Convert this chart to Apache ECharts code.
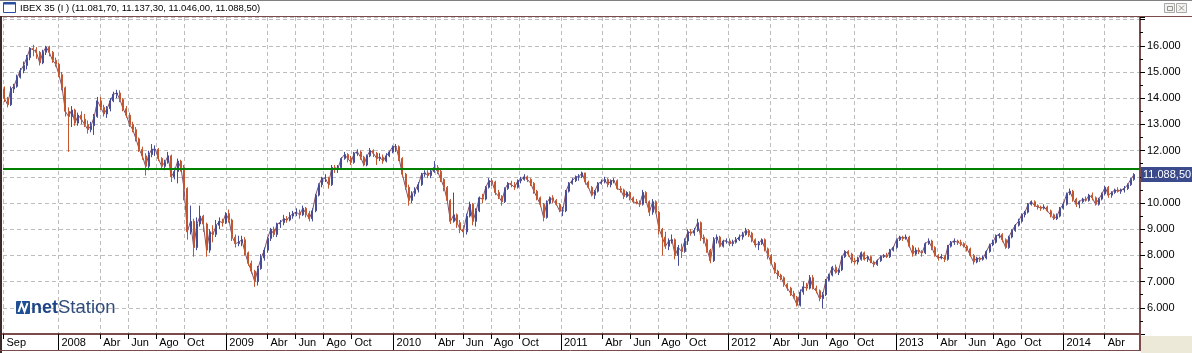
<!DOCTYPE html>
<html>
<head>
<meta charset="utf-8">
<title>IBEX 35</title>
<script src="https://cdn.jsdelivr.net/npm/echarts@6/dist/echarts.min.js"></script>
<style>
  html, body { margin: 0; padding: 0; background: #fff; }
  #chart { width: 1192px; height: 353px; }
</style>
</head>
<body>
<div id="chart"></div>
<script>
// weekly bars [open, close, low, high], one row per week (first week ends Fri 2007-09-07)
const w2007 = [
  [14350,14000,13850,14450],[14000,13750,13650,14050],[13750,14350,13700,14450],[14350,14450,14200,14550],
  [14450,14800,14400,14900],[14800,15050,14750,15150],[15050,15250,14950,15400],[15250,15550,15100,15650],
  [15550,15900,15450,15950],[15900,15850,15600,16040],[15850,15750,15500,15950],[15750,15350,15250,15800],[15350,15750,15300,15850],
  [15750,15950,15650,16000],[15950,15750,15600,16000],[15750,15450,15350,15800],[15450,15300,15200,15550]
]
const w2008 = [
  [15300,14900,14800,15350],[14900,14400,14300,15000],[14400,13500,13300,14450],[13500,13300,11950,13650],
  [13300,13550,12900,13700],[13550,13050,12950,13600],[13050,13350,12950,13450],[13350,13200,13000,13500],[13200,13000,12900,13400],
  [13000,12800,12650,13150],[12800,12950,12700,13100],[12950,13300,12600,13400],[13300,13900,13250,14050],
  [13900,13650,13550,14050],[13650,13400,13300,13750],[13400,13600,13250,13700],[13600,13900,13500,14000],
  [13900,14150,13850,14250],[14150,14200,14000,14320],[14200,13950,13850,14300],[13950,13600,13500,14000],[13600,13350,13250,13700],
  [13350,13000,12900,13450],[13000,12800,12700,13100],[12800,12450,12350,12900],[12450,12050,11950,12500],
  [12050,11800,11650,12150],[11800,11400,11050,11900],[11400,11850,11250,12000],[11850,12050,11750,12250],
  [12050,12050,11800,12200],[12050,11700,11600,12100],[11700,11400,11300,11750],[11400,11550,11250,11650],[11550,11800,11500,11950],
  [11800,11000,10800,11850],[11000,11200,10900,11350],[11200,11600,10750,11700],[11600,11350,11200,11650],
  [11350,10550,10100,11450],[10550,8900,8600,10600],[8900,9300,8800,9900],[9300,8300,7950,9400],[8300,9200,8200,9450],
  [9200,9500,9100,9900],[9500,9200,8900,9550],[9200,8200,7950,9250],[8200,8900,8100,9000],
  [8900,8800,8500,9150],[8800,9150,8700,9350],[9150,9300,9000,9450],[9300,9250,9100,9400]
]
const w2009 = [
  [9250,9600,9200,9650],[9600,9350,9250,9750],[9350,8700,8550,9400],[8700,8450,8300,8800],[8450,8500,8350,8750],
  [8500,8600,8350,8750],[8600,8100,8000,8700],[8100,7700,7600,8150],[7700,7400,7300,7800],
  [7400,7000,6800,7450],[7000,7500,6850,7600],[7500,7900,7450,8050],[7900,8200,7800,8300],
  [8200,8650,8100,8700],[8650,9000,8550,9050],[9000,8800,8700,9100],[8800,9200,8700,9250],
  [9200,9250,9050,9350],[9250,9400,9150,9550],[9400,9350,9250,9500],[9350,9500,9300,9650],[9500,9600,9400,9700],
  [9600,9650,9500,9800],[9650,9550,9400,9750],[9550,9800,9500,9900],[9800,9600,9450,9850],
  [9600,9400,9300,9700],[9400,9700,9300,9800],[9700,10300,9650,10350],[10300,10700,10250,10750],[10700,10950,10600,11000],
  [10950,10950,10800,11100],[10950,10700,10550,11000],[10700,11350,10650,11450],[11350,11300,11150,11450],
  [11300,11350,11150,11450],[11350,11700,11300,11750],[11700,11850,11650,11950],[11850,11700,11550,11900],
  [11700,11550,11450,11800],[11550,11900,11500,11950],[11900,11950,11800,12050],[11950,11750,11650,12000],[11750,11450,11400,11800],
  [11450,11800,11400,11850],[11800,12000,11750,12100],[12000,11900,11750,12050],[11900,11700,11450,11950],
  [11700,11750,11600,11900],[11750,11600,11500,11850],[11600,11800,11550,11900],[11800,11950,11750,12000]
]
const w2010 = [
  [11950,12150,11900,12200],[12150,12150,11950,12250],[12150,11700,11600,12200],[11700,11100,11000,11750],[11100,10600,10500,11150],
  [10600,10100,9900,10700],[10100,10350,10000,10450],[10350,10500,10250,10600],[10500,10700,10400,10800],
  [10700,11100,10650,11150],[11100,11150,11000,11250],[11150,11050,10950,11250],[11050,11200,10950,11300],
  [11200,11350,11150,11600],[11350,11200,11100,11450],[11200,10900,10800,11300],[10900,10600,10450,10950],[10600,10100,10000,10650],
  [10100,9300,9200,10150],[9300,9550,9250,10400],[9550,9250,9050,9600],[9250,9000,8850,9350],
  [9000,8900,8700,9150],[8900,9500,8800,9600],[9500,9950,9450,10050],[9950,9300,9150,10000],
  [9300,9700,9100,9800],[9700,10200,9650,10250],[10200,10150,10000,10350],[10150,10600,10100,10650],[10600,10850,10550,10950],
  [10850,10800,10650,10950],[10800,10400,10300,10850],[10400,10250,10150,10500],[10250,10050,9900,10300],
  [10050,10550,10000,10600],[10550,10750,10500,10800],[10750,10700,10600,10850],[10700,10600,10500,10800],
  [10600,10850,10550,10900],[10850,10900,10750,11000],[10900,11000,10850,11100],[11000,10900,10800,11050],[10900,10750,10650,10950],
  [10750,10450,10350,10800],[10450,10200,10100,10500],[10200,9950,9850,10250],[9950,9450,9300,10000],
  [9450,10000,9400,10100],[10000,10200,9950,10250],[10200,10100,10000,10300],[10100,9950,9900,10150],[9950,9700,9650,10000]
]
const w2011 = [
  [9700,9700,9500,9850],[9700,10450,9650,10500],[10450,10750,10400,10800],[10750,10850,10700,10950],
  [10850,11000,10800,11050],[11000,11000,10850,11100],[11000,11150,10950,11200],[11150,10800,10700,11150],
  [10800,10600,10550,10850],[10600,10300,10250,10650],[10300,10450,10150,10500],[10450,10750,10400,10800],
  [10750,10800,10700,10900],[10800,10900,10750,11000],[10900,10700,10600,10950],[10700,10850,10600,10900],[10850,10850,10750,10950],
  [10850,10550,10500,10900],[10550,10500,10400,10650],[10500,10250,10150,10550],[10250,10400,10200,10450],
  [10400,10200,10100,10450],[10200,10050,10000,10250],[10050,10000,9950,10150],[10000,9950,9850,10100],
  [9950,10400,9900,10500],[10400,10050,10000,10450],[10050,9650,9500,10100],[9650,10050,9550,10150],[10050,9650,9600,10100],
  [9650,9000,8800,9700],[9000,8700,8000,9050],[8700,8350,8250,8900],[8350,8550,8200,8650],
  [8550,8600,8450,8800],[8600,8000,7850,8650],[8000,8300,7600,8400],[8300,8150,7900,8450],[8150,8550,8100,8650],
  [8550,8900,8400,9000],[8900,8850,8750,9000],[8850,8950,8750,9050],[8950,9250,8900,9400],
  [9250,8700,8550,9300],[8700,8600,8450,8800],[8600,8200,8100,8650],[8200,7800,7700,8250],
  [7800,8600,7750,8700],[8600,8700,8450,8800],[8700,8350,8300,8750],[8350,8550,8300,8600],[8550,8550,8450,8650]
]
const w2012 = [
  [8550,8450,8350,8650],[8450,8500,8350,8600],[8500,8600,8450,8700],[8600,8700,8550,8800],
  [8700,8800,8600,8900],[8800,8950,8750,9050],[8950,8850,8700,9000],[8850,8600,8500,8900],
  [8600,8400,8300,8650],[8400,8450,8200,8550],[8450,8600,8400,8650],[8600,8250,8150,8650],[8250,8000,7850,8300],
  [8000,7700,7650,8050],[7700,7400,7300,7750],[7400,7250,7100,7450],[7250,7150,7050,7300],
  [7150,6900,6800,7200],[6900,6750,6650,6950],[6750,6550,6450,6800],[6550,6400,6350,6650],
  [6400,6100,6050,6450],[6100,6600,6050,6700],[6600,6800,6500,7000],[6800,6750,6650,6950],[6750,7150,6700,7250],
  [7150,6750,6700,7250],[6750,6650,6550,6850],[6650,6350,6250,6700],[6350,6500,5980,6600],
  [6500,7050,6450,7100],[7050,7250,7000,7300],[7250,7550,7200,7600],[7550,7350,7300,7650],[7350,7450,7250,7500],
  [7450,7950,7400,8000],[7950,8150,7900,8200],[8150,8050,7950,8200],[8050,7800,7700,8100],
  [7800,7750,7650,7900],[7750,7850,7650,7950],[7850,8100,7800,8150],[8100,7850,7800,8150],
  [7850,7950,7750,8000],[7950,7750,7700,8000],[7750,7650,7550,7800],[7650,7800,7600,7850],[7800,7950,7750,8000],
  [7950,8000,7900,8050],[8000,7950,7900,8100],[7950,8200,7900,8250],[8200,8300,8150,8350]
]
const w2013 = [
  [8300,8600,8250,8650],[8600,8700,8550,8750],[8700,8650,8550,8750],[8650,8700,8600,8800],
  [8700,8350,8300,8750],[8350,8050,7950,8400],[8050,8200,8000,8300],[8200,8150,8050,8300],
  [8150,8100,7950,8200],[8100,8450,8050,8500],[8450,8550,8400,8650],[8550,8300,8200,8600],[8300,8000,7950,8350],
  [8000,7900,7800,8050],[7900,7950,7850,8050],[7950,7850,7750,8000],[7850,8350,7800,8400],
  [8350,8500,8300,8550],[8500,8550,8400,8650],[8550,8500,8400,8600],[8500,8450,8350,8600],[8450,8350,8300,8500],
  [8350,8250,8150,8400],[8250,8000,7950,8300],[8000,7750,7650,8050],[7750,7900,7700,7950],
  [7900,7850,7750,7950],[7850,7900,7800,8000],[7900,8150,7850,8200],[8150,8400,8100,8450],
  [8400,8500,8350,8600],[8500,8750,8450,8800],[8750,8800,8650,8850],[8800,8600,8500,8850],[8600,8300,8250,8650],
  [8300,8700,8250,8750],[8700,8950,8650,9000],[8950,9150,8900,9200],[9150,9300,9100,9400],
  [9300,9550,9250,9600],[9550,9650,9450,9700],[9650,9950,9600,10000],[9950,10050,9900,10100],
  [10050,9900,9850,10100],[9900,9850,9750,9950],[9850,9800,9700,9900],[9800,9850,9750,9950],[9850,9700,9650,9900],
  [9700,9550,9450,9750],[9550,9400,9350,9600],[9400,9500,9350,9600],[9500,9800,9450,9850]
]
const w2014 = [
  [9800,9950,9750,10050],[9950,10350,9900,10400],[10350,10450,10300,10550],[10450,10150,10050,10500],[10150,9950,9850,10200],
  [9950,10050,9800,10100],[10050,10150,10000,10200],[10150,10100,10050,10250],[10100,10300,10050,10350],
  [10300,10200,10100,10400],[10200,9950,9900,10250],[9950,10150,9900,10200],[10150,10350,10100,10400],
  [10350,10600,10300,10650],[10600,10300,10200,10650],[10300,10400,10200,10450],[10400,10500,10350,10550],
  [10500,10450,10400,10600],[10450,10500,10350,10550],[10500,10550,10400,10650],[10550,10700,10500,10750],[10700,10900,10650,10950],
  [10900,11088.5,10850,11137.3]
]

const monthTicks = [
  '2007-09-03',
  '2008-01-01','2008-04-01','2008-06-01','2008-08-01','2008-10-01',
  '2009-01-01','2009-04-01','2009-06-01','2009-08-01','2009-10-01',
  '2010-01-01','2010-04-01','2010-06-01','2010-08-01','2010-10-01',
  '2011-01-01','2011-04-01','2011-06-01','2011-08-01','2011-10-01',
  '2012-01-01','2012-04-01','2012-06-01','2012-08-01','2012-10-01',
  '2013-01-01','2013-04-01','2013-06-01','2013-08-01','2013-10-01',
  '2014-01-01','2014-04-01'
]
const yearTicks = ['2008-01-01','2009-01-01','2010-01-01','2011-01-01','2012-01-01','2013-01-01','2014-01-01']
const monthNames = ['', 'Feb', 'Mar', 'Abr', 'May', 'Jun', 'Jul', 'Ago', 'Sep', 'Oct', 'Nov', 'Dic']

const lastPrice = 11088.5
const levelLine = 11300
const titleText = 'IBEX 35 (I ) (11.081,70, 11.137,30, 11.046,00, 11.088,50)'

const frameColor = '#7b4a4a'
const gridColor = '#bdbdbd'
const upColor = '#474c96'
const downColor = '#c3562c'
const font = 'Liberation Sans, Arial, sans-serif'

function toTime(s) {
  const p = s.split('-')
  return new Date(+p[0], +p[1] - 1, +p[2]).getTime()
}
function fmtInt(v) {
  return String(v).replace(/\B(?=(\d{3})+(?!\d))/g, '.')
}
function fmtPrice(v) {
  const parts = v.toFixed(2).split('.')
  return fmtInt(parts[0]) + ',' + parts[1]
}

// one candle per week, placed on the Wednesday of that week
const weeks = [].concat(w2007, w2008, w2009, w2010, w2011, w2012, w2013, w2014)
const bars = weeks.map((w, i) => {
  const d = new Date(2007, 8, 5 + 7 * i)
  return [d.getTime(), w[0], w[1], w[2], w[3]]
})
// the same weeks' closes, joined so the bars read as one trace
const closes = bars.map(b => [b[0], b[2]])

const monthTickTimes = monthTicks.map(toTime)
const yearTickTimes = yearTicks.map(toTime)
const xMin = toTime('2007-09-02')
const xMax = toTime('2014-06-17')

const myChart = echarts.init(document.getElementById('chart'), null, { renderer: 'canvas' })

myChart.setOption({
  animation: false,
  backgroundColor: '#fff',
  grid: { left: 3, right: 52, top: 17, bottom: 19 },
  xAxis: [
    {
      type: 'value',
      min: xMin,
      max: xMax,
      position: 'bottom',
      axisLine: { show: true, lineStyle: { color: frameColor, width: 2 } },
      axisTick: { show: true, customValues: monthTickTimes, length: 5, lineStyle: { color: '#000' } },
      axisLabel: {
        customValues: monthTickTimes,
        hideOverlap: false,
        showMinLabel: true,
        showMaxLabel: true,
        align: 'left',
        padding: [0, 0, 0, 3],
        margin: 3,
        color: '#000',
        fontSize: 11,
        fontFamily: font,
        formatter: function (value) {
          const d = new Date(value)
          return d.getMonth() === 0 ? String(d.getFullYear()) : monthNames[d.getMonth()]
        }
      },
      splitLine: { show: true, lineStyle: { color: gridColor, type: [4, 3], width: 1 } }
    },
    {
      type: 'value',
      min: xMin,
      max: xMax,
      position: 'bottom',
      axisLine: { show: false },
      axisTick: { show: true, customValues: yearTickTimes, length: 16, lineStyle: { color: '#000' } },
      axisLabel: { show: false },
      splitLine: { show: false }
    }
  ],
  yAxis: {
    type: 'value',
    position: 'right',
    min: 5000,
    max: 17100,
    interval: 1000,
    axisLine: { show: true, lineStyle: { color: frameColor, width: 2 } },
    axisTick: { show: true, length: 5, lineStyle: { color: '#000' } },
    minorTick: { show: true, splitNumber: 2, length: 3, lineStyle: { color: '#000' } },
    axisLabel: {
      margin: 7,
      color: '#000',
      fontSize: 11,
      fontFamily: font,
      formatter: function (v) {
        return v <= 5000 || v > 16000 ? '' : fmtInt(v)
      }
    },
    splitLine: { show: true, lineStyle: { color: gridColor, type: [4, 3], width: 1 } }
  },
  series: [
    {
      type: 'line',
      xAxisIndex: 0,
      data: closes,
      symbol: 'none',
      silent: true,
      lineStyle: { color: '#84506a', width: 1 },
      z: 1
    },
    {
      type: 'candlestick',
      xAxisIndex: 0,
      data: bars,
      encode: { x: 0, y: [1, 2, 3, 4] },
      barWidth: 1.5,
      z: 2,
      itemStyle: {
        color: upColor,
        color0: downColor,
        borderColor: upColor,
        borderColor0: downColor,
        borderWidth: 1
      },
      markLine: {
        silent: true,
        symbol: 'none',
        animation: false,
        data: [
          {
            yAxis: levelLine,
            lineStyle: { color: '#008000', width: 2, type: 'solid' },
            label: { show: false }
          },
          {
            yAxis: lastPrice,
            lineStyle: { color: 'rgba(0,0,0,0)', width: 0 },
            label: {
              show: true,
              position: 'end',
              distance: 1,
              formatter: fmtPrice(lastPrice),
              color: '#fff',
              backgroundColor: '#3b4a8b',
              padding: [2, 2, 2, 2],
              fontSize: 11,
              fontFamily: font
            }
          }
        ]
      }
    }
  ],
  graphic: [
    // title bar
    { type: 'rect', shape: { x: 0, y: 0, width: 1192, height: 16 }, style: { fill: '#fff' }, z: 100 },
    { type: 'line', shape: { x1: 0, y1: 0.5, x2: 1192, y2: 0.5 }, style: { stroke: '#808080', lineWidth: 1 }, z: 101 },
    { type: 'line', shape: { x1: 0, y1: 16.5, x2: 1192, y2: 16.5 }, style: { stroke: frameColor, lineWidth: 1 }, z: 101 },
    { type: 'rect', shape: { x: 3.5, y: 2.5, width: 12, height: 10 }, style: { fill: '#fff', stroke: '#2b4f9e', lineWidth: 1 }, z: 101 },
    { type: 'rect', shape: { x: 3.5, y: 2.5, width: 12, height: 2 }, style: { fill: '#2b4f9e' }, z: 101 },
    {
      type: 'text', x: 20, y: 8, z: 101,
      style: { text: titleText, fill: '#000', fontSize: 9.5, fontFamily: font, verticalAlign: 'middle' }
    },
    // window buttons
    { type: 'rect', shape: { x: 1164.5, y: 3.5, width: 10, height: 9 }, style: { fill: '#f4f3ee', stroke: '#a8a8a8' }, z: 101 },
    { type: 'rect', shape: { x: 1167.5, y: 6.5, width: 5, height: 4 }, style: { fill: 'none', stroke: '#909090' }, z: 102 },
    { type: 'rect', shape: { x: 1176.5, y: 3.5, width: 10, height: 9 }, style: { fill: '#f4f3ee', stroke: '#a8a8a8' }, z: 101 },
    { type: 'line', shape: { x1: 1179, y1: 5.5, x2: 1184, y2: 10.5 }, style: { stroke: '#909090' }, z: 102 },
    { type: 'line', shape: { x1: 1184, y1: 5.5, x2: 1179, y2: 10.5 }, style: { stroke: '#909090' }, z: 102 },
    // left border
    { type: 'rect', shape: { x: 0, y: 16, width: 2, height: 337 }, style: { fill: '#3c2a2a' }, z: 101 },
    // date band frame
    { type: 'line', shape: { x1: 0, y1: 350.5, x2: 1141, y2: 350.5 }, style: { stroke: frameColor, lineWidth: 1 }, z: 101 },
    { type: 'line', shape: { x1: 1140, y1: 334, x2: 1140, y2: 351 }, style: { stroke: frameColor, lineWidth: 2 }, z: 101 },
    { type: 'rect', shape: { x: 1141, y: 336, width: 51, height: 17 }, style: { fill: '#ece9d8' }, z: 101 },
    // logo
    { type: 'rect', shape: { x: 16, y: 301, width: 14, height: 13, r: 1 }, style: { fill: '#1f4f92' }, z: 50 },
    {
      type: 'polyline', z: 51,
      shape: { points: [[18.5, 312], [21.5, 303.5], [24.5, 311.5], [27.5, 303]] },
      style: { stroke: '#fff', lineWidth: 2, fill: 'none' }
    },
    {
      type: 'text', x: 31, y: 308, z: 50,
      style: {
        text: '{a|net}{b|Station}',
        verticalAlign: 'middle',
        rich: {
          a: { fontSize: 18, fontWeight: 'bold', fill: '#1d4486', fontFamily: font },
          b: { fontSize: 18.5, fill: '#2f4c7c', fontFamily: font }
        }
      }
    }
  ]
})
</script>
</body>
</html>
